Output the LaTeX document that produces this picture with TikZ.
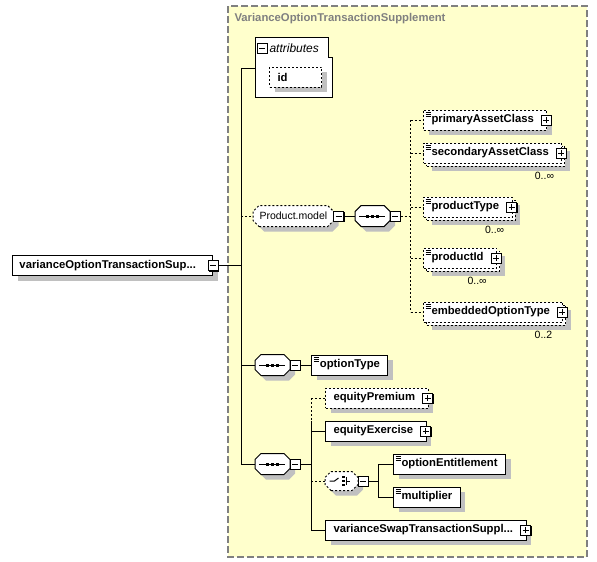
\documentclass[tikz,border=0pt]{standalone}
\usepackage{fontspec}
\setmainfont{Liberation Sans}
\usetikzlibrary{positioning,shadows}

\definecolor{groupbg}{RGB}{255,255,204}
\definecolor{framegray}{RGB}{128,128,128}
\definecolor{castgray}{RGB}{192,192,192}

\newcommand\elemfont{\fontsize{11.3}{13}\selectfont\bfseries}
\newcommand\plainfont{\fontsize{10.5}{12}\selectfont}

% box with cut corners for model groups
\makeatletter
\def\octcut{6pt}
\pgfdeclareshape{cutbox}{
	\inheritsavedanchors[from=rectangle]
	\inheritanchorborder[from=rectangle]
	\inheritanchor[from=rectangle]{center}
	\inheritanchor[from=rectangle]{north}
	\inheritanchor[from=rectangle]{south}
	\inheritanchor[from=rectangle]{east}
	\inheritanchor[from=rectangle]{west}
	\inheritanchor[from=rectangle]{north east}
	\inheritanchor[from=rectangle]{north west}
	\inheritanchor[from=rectangle]{south east}
	\inheritanchor[from=rectangle]{south west}
	\inheritanchor[from=rectangle]{base}
	\inheritanchor[from=rectangle]{mid}
	\backgroundpath{
		\southwest \edef\octxa{\the\pgf@x}\edef\octya{\the\pgf@y}
		\northeast \edef\octxb{\the\pgf@x}\edef\octyb{\the\pgf@y}
		\pgfpathmoveto{\pgfpoint{\octxa+\octcut}{\octya}}
		\pgfpathlineto{\pgfpoint{\octxb-\octcut}{\octya}}
		\pgfpathlineto{\pgfpoint{\octxb}{\octya+\octcut}}
		\pgfpathlineto{\pgfpoint{\octxb}{\octyb-\octcut}}
		\pgfpathlineto{\pgfpoint{\octxb-\octcut}{\octyb}}
		\pgfpathlineto{\pgfpoint{\octxa+\octcut}{\octyb}}
		\pgfpathlineto{\pgfpoint{\octxa}{\octyb-\octcut}}
		\pgfpathlineto{\pgfpoint{\octxa}{\octya+\octcut}}
		\pgfpathclose
	}
}
\makeatother

\tikzset{
	opt/.style={dash pattern=on 2pt off 2pt},
	cast/.style={drop shadow={shadow xshift=5pt,shadow yshift=-5pt,fill=castgray,opacity=1}},
	multi/.style={drop shadow={shadow xshift=8pt,shadow yshift=-8pt,fill=castgray,opacity=1},
		copy shadow={shadow xshift=3pt,shadow yshift=-3pt,fill=white,draw=black,opt}},
	elem/.style={draw,fill=white,anchor=west,minimum height=20pt,inner xsep=8pt,inner ysep=0pt,font=\elemfont},
	pmbox/.style={draw,fill=white,minimum size=10pt,inner sep=0pt,line width=0.8pt,
		drop shadow={shadow xshift=1pt,shadow yshift=-1pt,fill=black,opacity=1}},
	minusbox/.style={pmbox,path picture={
		\draw[solid,black] ([xshift=2pt]path picture bounding box.west) -- ([xshift=-2pt]path picture bounding box.east);}},
	plusbox/.style={pmbox,path picture={
		\draw[solid,black] ([xshift=2pt]path picture bounding box.west) -- ([xshift=-2pt]path picture bounding box.east);
		\draw[solid,black] ([yshift=-2pt]path picture bounding box.north) -- ([yshift=2pt]path picture bounding box.south);}},
	kids/.style={execute at end node={\hspace{5pt}},
		append after command={node[plusbox] at ([xshift=-1pt]\tikzlastnode.east) {}}},
	simple/.style={path picture={\foreach \yy in {2,4,6}
		\draw[solid,black,line width=0.7pt] ([shift={(2pt,-\yy pt)}]path picture bounding box.north west) -- ++(5pt,0pt);}},
	grp/.style={shape=cutbox,draw,fill=white,anchor=west,minimum height=20pt,inner ysep=0pt,inner xsep=6pt,cast},
	seqicon/.style={path picture={
		\draw[solid,black] ([xshift=4pt]path picture bounding box.west) -- ([xshift=-5pt]path picture bounding box.east);
		\foreach \dx in {-5,0,5}
			\fill[black] ([xshift=\dx pt]path picture bounding box.center) +(-1.5pt,-1.5pt) rectangle +(1.5pt,1.5pt);}},
	choiceicon/.style={path picture={
		\coordinate (cc) at (path picture bounding box.center);
		\draw[solid,black] ([xshift=-12pt]cc) -- ([xshift=-7pt]cc) -- ([shift={(-3pt,3pt)}]cc);
		\foreach \dy in {-4,0,4}
			\fill[black] ([shift={(2pt,\dy pt)}]cc) +(-1.3pt,-1.3pt) rectangle +(1.3pt,1.3pt);
		\draw[solid,black] ([shift={(5pt,4pt)}]cc) -- ([shift={(5pt,-4pt)}]cc);
		\draw[solid,black] ([xshift=5pt]cc) -- ([xshift=8pt]cc);}},
	card/.style={anchor=north,inner sep=0pt,font=\plainfont},
}

\begin{document}
\begin{tikzpicture}[x=1pt,y=-1pt,line width=1pt]
	\useasboundingbox (0,0) rectangle (597,562);
	% complex type frame
	\draw[framegray,fill=groupbg,line width=1.2pt,dash pattern=on 7pt off 3pt] (228,6) rectangle (587,557);
	\node[anchor=west,inner sep=0pt,font=\elemfont,text=framegray] (ctype) at (234,19) {VarianceOptionTransactionSupplement};
	
	% root element
	\node[elem,cast,inner xsep=7pt,text width=186pt] (root) at (12,265.5) {varianceOptionTransactionSup...};
	\node[minusbox] (rootm) at (root.east) {};
	
	% attributes
	\draw[fill=white] (255,37) -- (328,37) -- (328,57) -- (332,57) -- (332,97) -- (255,97) -- cycle;
	\node[minusbox] (attrm) at (262,48) {};
	\node[anchor=west,inner sep=0pt,font=\fontsize{12}{14}\selectfont\itshape] (attr) at (269,48) {attributes};
	\node[elem,opt,cast,text width=36pt] (id) at (269,77) {id};
	\coordinate (attrin) at (255,68);
	
	% trunk
	\coordinate (tt) at (241,68);
	\coordinate (tb) at (241,464);
	\draw (tt) -- (tb);
	\draw (rootm) -- (rootm -| tt);
	\draw (tt) -- (attrin);
	
	% Product.model group
	\node[grp,opt,font=\plainfont] (pmodel) at (253,216) {Product.model};
	\node[minusbox] (pmodelm) at ([xshift=5pt]pmodel.east) {};
	\node[grp,minimum width=34pt,seqicon,right=11pt of pmodelm] (pseq) {};
	\node[minusbox] (pseqm) at ([xshift=5pt]pseq.east) {};
	\coordinate[right=10pt of pseqm] (pv);
	\draw[opt] (tt |- pmodel) -- (pmodel);
	\draw (pmodelm) -- (pseq);
	\draw[opt] (pseqm) -- (pv);
	
	\node[elem,opt,cast,simple,kids] (pac) at (423,120) {primaryAssetClass};
	\node[elem,opt,multi,simple,kids] (sac) at (423,153) {secondaryAssetClass};
	\node[elem,opt,multi,simple,kids] (ptype) at (423,207) {productType};
	\node[elem,opt,multi,simple,kids] (pid) at (423,258) {productId};
	\node[elem,opt,multi,simple,kids] (eot) at (423,312) {embeddedOptionType};
	\node[card] (sacn) at ([shift={(-18pt,-8pt)}]sac.south east) {0..∞};
	\node[card] (ptypen) at ([shift={(-18pt,-8pt)}]ptype.south east) {0..∞};
	\node[card] (pidn) at ([shift={(-20pt,-8pt)}]pid.south east) {0..∞};
	\node[card] (eotn) at ([shift={(-20pt,-8pt)}]eot.south east) {0..2};
	\draw[opt] (pv |- pac) -- (pv |- eot);
	\foreach \n in {pac,sac,ptype,pid,eot}
		\draw[opt] (pv |- \n) -- (\n);
	
	% optionType sequence
	\node[grp,minimum width=34pt,seqicon] (seqa) at (255,365) {};
	\node[minusbox] (seqam) at ([xshift=5pt]seqa.east) {};
	\node[elem,simple,cast,right=11pt of seqam] (otype) {optionType};
	\draw (tt |- seqa) -- (seqa);
	\draw (seqam) -- (otype);
	
	% lower sequence
	\node[grp,minimum width=34pt,seqicon] (seqb) at (255,464) {};
	\node[minusbox] (seqbm) at ([xshift=5pt]seqb.east) {};
	\coordinate[right=11pt of seqbm] (sv);
	\draw (tb) -- (seqb);
	\draw (seqbm) -- (sv);
	
	\node[elem,opt,cast,kids] (eprem) at (325,398) {equityPremium};
	\node[elem,cast,kids] (eexer) at (325,431) {equityExercise};
	\node[grp,opt,minimum width=32pt,minimum height=18pt,choiceicon] (choice) at (325,481) {};
	\node[minusbox] (choicem) at ([xshift=5pt]choice.east) {};
	\coordinate[right=10pt of choicem] (cv);
	\node[elem,simple,cast] (oent) at (393,464) {optionEntitlement};
	\node[elem,simple,cast] (mult) at (393,497) {multiplier};
	\node[elem,cast,kids] (vswap) at (325,530) {varianceSwapTransactionSuppl...};
	
	\draw[opt] (sv |- eprem) -- (sv |- eexer.north);
	\draw (sv |- eexer.north) -- (sv |- vswap);
	\draw[opt] (sv |- eprem) -- (eprem);
	\draw (sv |- eexer) -- (eexer);
	\draw[opt] (sv |- choice) -- (choice);
	\draw (sv |- vswap) -- (vswap);
	\draw (choicem) -- (cv);
	\draw (cv |- oent) -- (cv |- mult);
	\draw (cv |- oent) -- (oent);
	\draw (cv |- mult) -- (mult);
\end{tikzpicture}
\end{document}
